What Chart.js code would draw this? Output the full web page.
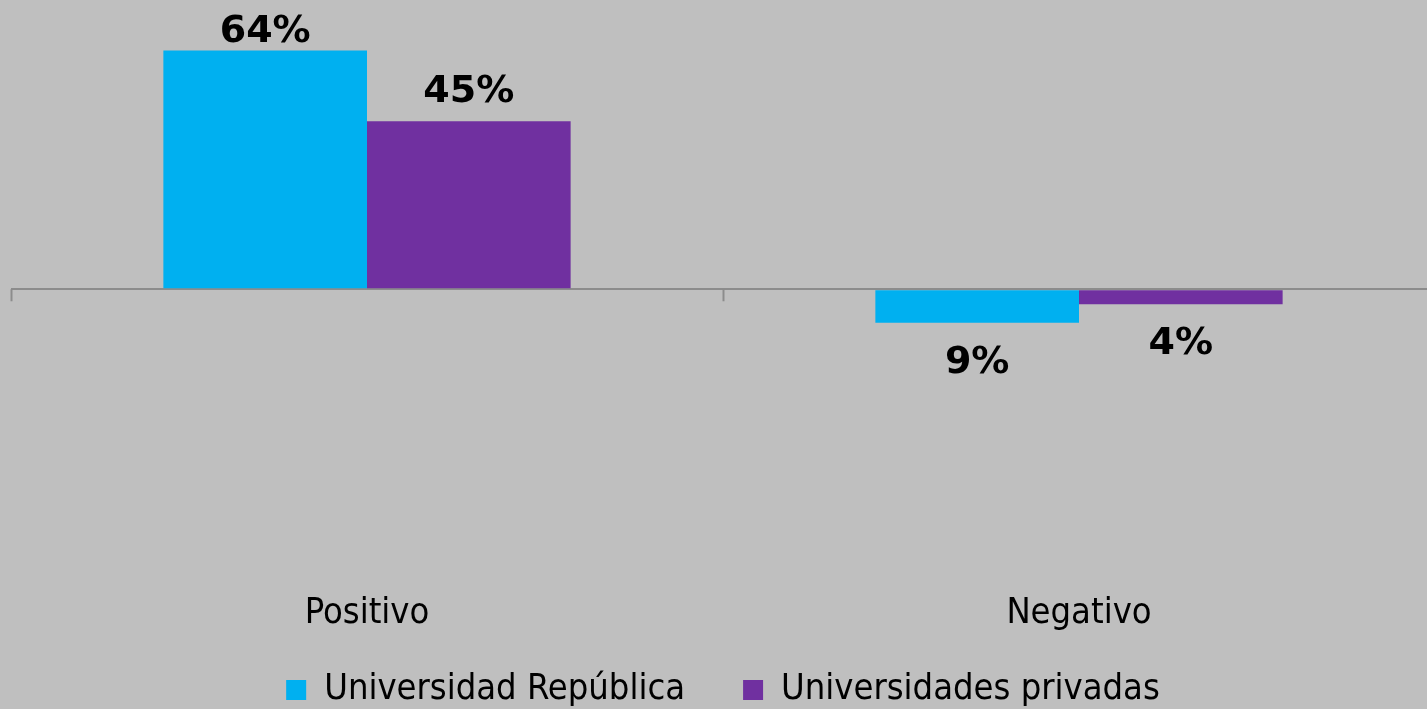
<!DOCTYPE html>
<html>
<head>
<meta charset="utf-8">
<script src="https://cdn.jsdelivr.net/npm/chart.js@4"></script>
<style>
  html, body { margin: 0; padding: 0; background: #bfbfbf; overflow: hidden; }
  #wrap { width: 1440px; height: 709px; }
</style>
</head>
<body>
<div id="wrap"><canvas id="chart"></canvas></div>
<script>
// data
const categories = ["Positivo", "Negativo"];
const republica = [64, -9];
const privadas = [45, -4];
const seriesNames = ["Universidad República", "Universidades privadas"];

const BLUE = "#00b0f0";
const PURPLE = "#7030a0";
const AXIS = "#8c8c8c";

// value labels, category ticks on the zero line, and the category names
const barLabels = {
  id: "barLabels",
  afterDatasetsDraw(chart) {
    const ctx = chart.ctx;
    ctx.save();
    ctx.font = "bold 38px 'DejaVu Sans'";
    ctx.fillStyle = "#000";
    ctx.textAlign = "center";
    ctx.textBaseline = "alphabetic";
    const cap = 28;
    chart.data.datasets.forEach((ds, i) => {
      chart.getDatasetMeta(i).data.forEach((bar, j) => {
        const v = ds.data[j];
        let y;
        if (v >= 0) {
          y = Math.max(bar.y - 19, cap + 14);
        } else {
          y = bar.y + 22 + cap;
        }
        ctx.fillText(Math.abs(v) + "%", bar.x, y);
      });
    });

    const x = chart.scales.x;
    const y0 = chart.scales.y.getPixelForValue(0);

    // tick marks at category boundaries
    const step = (x.right - x.left) / categories.length;
    ctx.strokeStyle = AXIS;
    ctx.lineWidth = 2;
    for (let i = 0; i <= categories.length; i++) {
      const px = Math.round(x.left + i * step) + 0.5;
      ctx.beginPath();
      ctx.moveTo(px, y0);
      ctx.lineTo(px, y0 + 12);
      ctx.stroke();
    }

    // category names sit low, just above the legend
    ctx.font = "36px 'DejaVu Sans Condensed'";
    categories.forEach((c, i) => {
      ctx.fillText(c, x.getPixelForValue(i), chart.chartArea.bottom + 9);
    });
    ctx.restore();
  }
};

new Chart(document.getElementById("chart"), {
  type: "bar",
  data: {
    labels: categories,
    datasets: [
      { label: seriesNames[0], data: republica, backgroundColor: BLUE },
      { label: seriesNames[1], data: privadas, backgroundColor: PURPLE },
    ],
  },
  options: {
    responsive: true,
    maintainAspectRatio: false,
    animation: false,
    layout: { padding: { top: 28, left: 11, right: 5, bottom: -9 } },
    datasets: {
      bar: { categoryPercentage: 0.572, barPercentage: 1.0 },
    },
    scales: {
      x: {
        grid: { display: false, drawTicks: false },
        border: { display: false },
        ticks: { display: false, padding: 0 },
      },
      y: {
        min: -87,
        max: 70,
        ticks: { display: false, stepSize: 10 },
        border: { display: false },
        grid: {
          drawTicks: false,
          lineWidth: 2,
          color: (c) => (c.tick && c.tick.value === 0 ? AXIS : "transparent"),
        },
      },
    },
    plugins: {
      legend: {
        position: "bottom",
        labels: {
          color: "#000",
          font: { family: "'DejaVu Sans Condensed'", size: 36 },
          boxWidth: 20,
          boxHeight: 20,
          padding: 58,
        },
      },
      tooltip: { enabled: false },
    },
  },
  plugins: [barLabels],
});
</script>
</body>
</html>
